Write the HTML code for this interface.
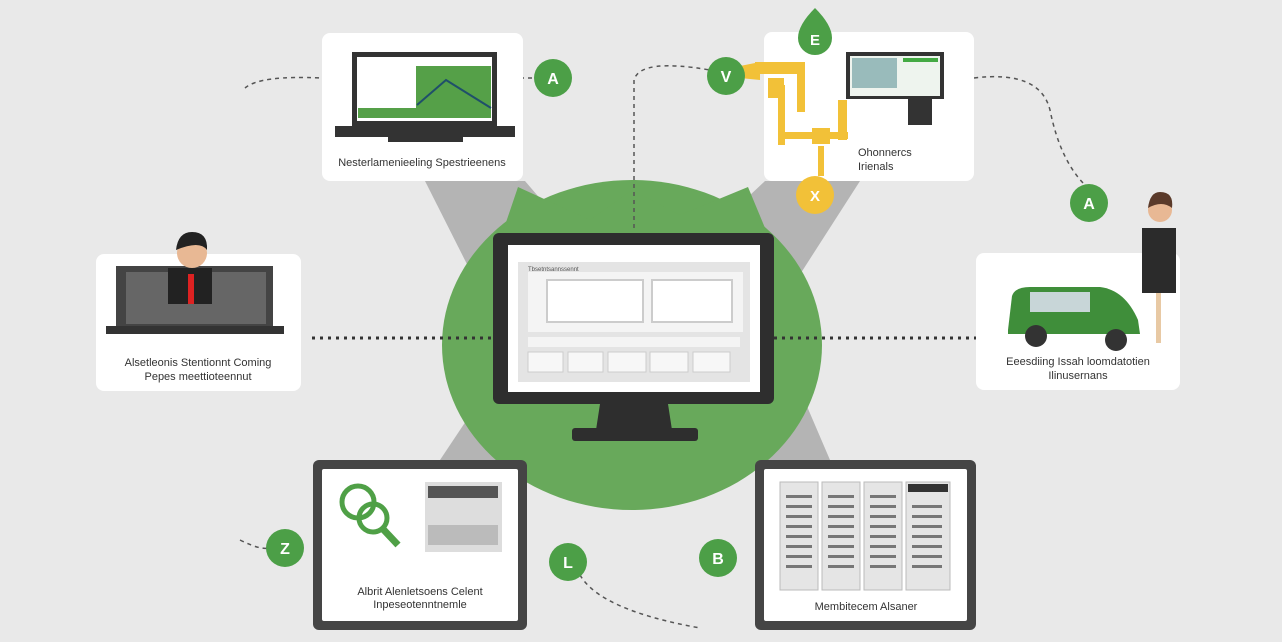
<!DOCTYPE html>
<html><head><meta charset="utf-8"><style>
body{margin:0;background:#e9e9e9;font-family:"Liberation Sans",sans-serif}
svg{display:block}
text{font-family:"Liberation Sans",sans-serif}
</style></head><body>
<svg width="1282" height="642" viewBox="0 0 1282 642">
<rect width="1282" height="642" fill="#e9e9e9"/>
<!-- gray wedges -->
<polygon points="425,181 525,181 610,280 480,290" fill="#b4b4b4"/>
<polygon points="765,181 860,181 790,290 660,280" fill="#b4b4b4"/>
<polygon points="440,460 530,460 600,400 480,400" fill="#b4b4b4"/>
<polygon points="755,460 830,460 800,390 680,400" fill="#b4b4b4"/>
<!-- green blob -->
<ellipse cx="632" cy="345" rx="190" ry="165" fill="#68a95b"/>
<polygon points="500,240 518,187 590,220 632,190 680,215 748,187 770,240" fill="#68a95b"/>
<!-- dashed connectors -->
<g fill="none" stroke="#555" stroke-width="1.5" stroke-dasharray="4,4">
<path d="M245,88 Q260,75 322,78"/>
<path d="M512,78 L535,78"/>
<path d="M634,228 L634,80 Q640,58 710,70"/>
<path d="M974,78 Q1040,70 1050,110 Q1060,160 1085,185"/>
<path d="M240,540 Q260,550 268,548"/>
<path d="M580,575 Q600,610 700,628"/>
</g>
<g fill="none" stroke="#333" stroke-width="3" stroke-dasharray="3,5">
<path d="M312,338 L493,338"/>
<path d="M774,338 L976,338"/>
</g>
<!-- cards -->
<rect x="322" y="33" width="201" height="148" rx="8" fill="#fff"/>
<rect x="764" y="32" width="210" height="149" rx="8" fill="#fff"/>
<rect x="96" y="254" width="205" height="137" rx="8" fill="#fff"/>
<rect x="976" y="253" width="204" height="137" rx="8" fill="#fff"/>
<rect x="313" y="460" width="214" height="170" rx="6" fill="#454545"/>
<rect x="322" y="469" width="196" height="152" rx="2" fill="#fff"/>
<rect x="755" y="460" width="221" height="170" rx="6" fill="#454545"/>
<rect x="764" y="469" width="203" height="152" rx="2" fill="#fff"/>
<!-- top-left laptop -->
<rect x="352" y="52" width="145" height="74" fill="#333"/>
<rect x="357" y="57" width="135" height="64" fill="#fff"/>
<rect x="416" y="66" width="75" height="42" fill="#55a048"/>
<rect x="358" y="108" width="133" height="10" fill="#55a048"/>
<polyline points="417,105 446,80 491,108" fill="none" stroke="#1f4f6a" stroke-width="2"/>
<rect x="335" y="126" width="180" height="11" fill="#333"/>
<rect x="388" y="137" width="75" height="5" fill="#333"/>
<text x="422" y="166" font-size="11" text-anchor="middle" fill="#333">Nesterlamenieeling  Spestrieenens</text>
<!-- top-right -->
<rect x="846" y="52" width="98" height="47" fill="#333"/>
<rect x="850" y="56" width="90" height="40" fill="#eef4ee"/>
<rect x="852" y="58" width="45" height="30" fill="#9bb"/>
<rect x="903" y="58" width="35" height="4" fill="#4a4"/>
<rect x="908" y="99" width="24" height="26" fill="#333"/>
<g fill="#f2c138">
<polygon points="740,66 760,62 760,80 740,78"/>
<rect x="755" y="62" width="48" height="12"/>
<rect x="797" y="62" width="8" height="50"/>
<rect x="768" y="78" width="16" height="20"/>
<rect x="778" y="85" width="7" height="60"/>
<rect x="778" y="132" width="70" height="7"/>
<rect x="812" y="128" width="18" height="16"/>
<rect x="838" y="100" width="9" height="40"/>
<rect x="818" y="146" width="6" height="30"/>
</g>
<circle cx="815" cy="195" r="19" fill="#f2c138"/>
<text x="815" y="201" font-size="15" font-weight="bold" text-anchor="middle" fill="#fff">X</text>
<path d="M815,8 Q798,25 798,38 a17,17 0 0 0 34,0 Q832,25 815,8Z" fill="#4c9f47"/>
<text x="815" y="45" font-size="15" font-weight="bold" text-anchor="middle" fill="#fff">E</text>
<text x="858" y="156" font-size="11" fill="#333">Ohonnercs</text>
<text x="858" y="170" font-size="11" fill="#333">Irienals</text>
<!-- left card -->
<rect x="116" y="266" width="157" height="62" fill="#444"/>
<rect x="126" y="272" width="140" height="52" fill="#666"/>
<rect x="106" y="326" width="178" height="8" fill="#333"/>
<rect x="168" y="268" width="44" height="36" fill="#222"/>
<rect x="188" y="274" width="6" height="30" fill="#d22"/>
<circle cx="192" cy="253" r="15" fill="#e8b894"/>
<path d="M176,250 Q178,232 192,232 Q208,232 207,250 Q200,240 176,250Z" fill="#222"/>
<text x="198" y="366" font-size="11" text-anchor="middle" fill="#333">Alsetleonis Stentionnt Coming</text>
<text x="198" y="380" font-size="11" text-anchor="middle" fill="#333">Pepes meettioteennut</text>
<!-- right card -->
<path d="M1008,330 L1012,296 Q1015,287 1030,287 L1100,287 Q1125,290 1138,320 L1140,334 L1008,334Z" fill="#3f8e3a"/>
<rect x="1030" y="292" width="60" height="20" fill="#c8d6d8"/>
<circle cx="1036" cy="336" r="11" fill="#333"/>
<circle cx="1116" cy="340" r="11" fill="#333"/>
<rect x="1142" y="228" width="34" height="65" fill="#2b2b2b"/>
<rect x="1156" y="293" width="5" height="50" fill="#e8c9a4"/>
<circle cx="1160" cy="210" r="12" fill="#e8b894"/>
<path d="M1148,208 Q1150,192 1160,192 Q1174,192 1172,208 Q1162,200 1148,208Z" fill="#5a3a2a"/>
<text x="1078" y="365" font-size="11" text-anchor="middle" fill="#333">Eeesdiing Issah loomdatotien</text>
<text x="1078" y="379" font-size="11" text-anchor="middle" fill="#333">Ilinusernans</text>
<!-- bottom-left -->
<g fill="none" stroke="#4fa046" stroke-width="5">
<circle cx="358" cy="502" r="16"/>
<circle cx="373" cy="518" r="14"/>
</g>
<line x1="382" y1="528" x2="398" y2="545" stroke="#4fa046" stroke-width="7"/>
<rect x="425" y="482" width="77" height="70" fill="#ddd"/>
<rect x="428" y="486" width="70" height="12" fill="#555"/>
<rect x="428" y="525" width="70" height="20" fill="#bbb"/>
<text x="420" y="595" font-size="11" text-anchor="middle" fill="#333">Albrit Alenletsoens Celent</text>
<text x="420" y="608" font-size="11" text-anchor="middle" fill="#333">Inpeseotenntnemle</text>
<!-- bottom-right servers -->
<g fill="#e5e5e5" stroke="#bbb">
<rect x="780" y="482" width="38" height="108"/>
<rect x="822" y="482" width="38" height="108"/>
<rect x="864" y="482" width="38" height="108"/>
<rect x="906" y="482" width="44" height="108"/>
</g>
<g fill="#777">
<rect x="786" y="495" width="26" height="3"/><rect x="786" y="505" width="26" height="3"/><rect x="786" y="515" width="26" height="3"/><rect x="786" y="525" width="26" height="3"/><rect x="786" y="535" width="26" height="3"/><rect x="786" y="545" width="26" height="3"/><rect x="786" y="555" width="26" height="3"/><rect x="786" y="565" width="26" height="3"/>
<rect x="828" y="495" width="26" height="3"/><rect x="828" y="505" width="26" height="3"/><rect x="828" y="515" width="26" height="3"/><rect x="828" y="525" width="26" height="3"/><rect x="828" y="535" width="26" height="3"/><rect x="828" y="545" width="26" height="3"/><rect x="828" y="555" width="26" height="3"/><rect x="828" y="565" width="26" height="3"/>
<rect x="870" y="495" width="26" height="3"/><rect x="870" y="505" width="26" height="3"/><rect x="870" y="515" width="26" height="3"/><rect x="870" y="525" width="26" height="3"/><rect x="870" y="535" width="26" height="3"/><rect x="870" y="545" width="26" height="3"/><rect x="870" y="555" width="26" height="3"/><rect x="870" y="565" width="26" height="3"/>
<rect x="912" y="505" width="30" height="3"/><rect x="912" y="515" width="30" height="3"/><rect x="912" y="525" width="30" height="3"/><rect x="912" y="535" width="30" height="3"/><rect x="912" y="545" width="30" height="3"/><rect x="912" y="555" width="30" height="3"/><rect x="912" y="565" width="30" height="3"/>
</g>
<rect x="908" y="484" width="40" height="8" fill="#333"/>
<text x="866" y="610" font-size="11" text-anchor="middle" fill="#333">Membitecem Alsaner</text>
<!-- center monitor -->
<rect x="493" y="233" width="281" height="171" rx="6" fill="#2e2e2e"/>
<rect x="508" y="245" width="252" height="147" fill="#fff"/>
<rect x="518" y="262" width="232" height="120" fill="#e4e4e4"/>
<rect x="528" y="272" width="215" height="60" fill="#f4f4f4"/>
<rect x="547" y="280" width="96" height="42" fill="#fff" stroke="#ccc" stroke-width="2"/>
<rect x="652" y="280" width="80" height="42" fill="#fff" stroke="#ccc" stroke-width="2"/>
<rect x="528" y="337" width="212" height="10" fill="#f4f4f4"/>
<g fill="#f7f7f7" stroke="#ccc"><rect x="528" y="352" width="35" height="20"/><rect x="568" y="352" width="35" height="20"/><rect x="608" y="352" width="38" height="20"/><rect x="650" y="352" width="38" height="20"/><rect x="693" y="352" width="37" height="20"/></g>
<text x="528" y="271" font-size="6" fill="#555">Tbsetntsannssennt</text>
<polygon points="600,404 668,404 672,430 596,430" fill="#2e2e2e"/>
<rect x="572" y="428" width="126" height="13" rx="3" fill="#2e2e2e"/>
<!-- badges -->
<g fill="#4c9f47">
<circle cx="553" cy="78" r="19"/><circle cx="726" cy="76" r="19"/><circle cx="1089" cy="203" r="19"/>
<circle cx="285" cy="548" r="19"/><circle cx="568" cy="562" r="19"/><circle cx="718" cy="558" r="19"/>
</g>
<g font-size="16" font-weight="bold" text-anchor="middle" fill="#fff">
<text x="553" y="84">A</text><text x="726" y="82">V</text><text x="1089" y="209">A</text>
<text x="285" y="554">Z</text><text x="568" y="568">L</text><text x="718" y="564">B</text>
</g>
</svg>
</body></html>
